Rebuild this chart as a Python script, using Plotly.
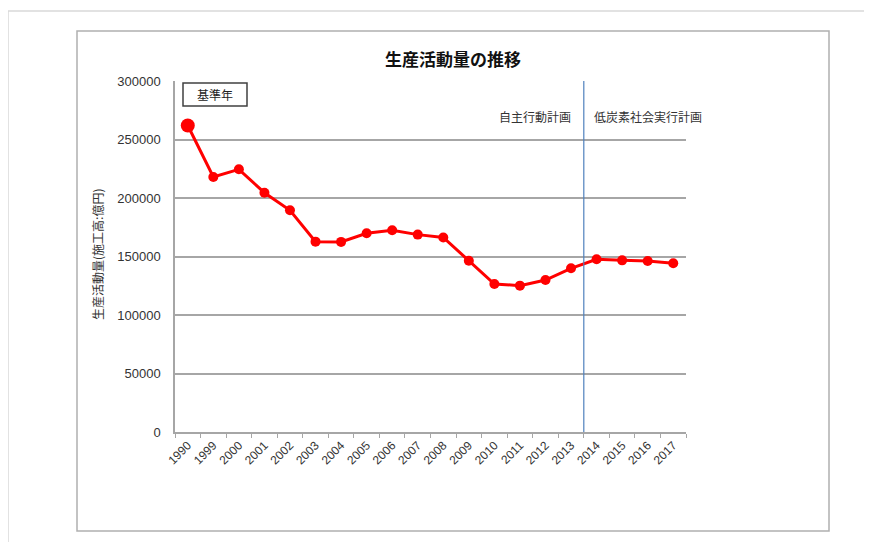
import plotly.graph_objects as go

categories = ["1990", "1999", "2000", "2001", "2002", "2003", "2004", "2005", "2006", "2007",
              "2008", "2009", "2010", "2011", "2012", "2013", "2014", "2015", "2016", "2017"]
values = [262000, 218000, 224500, 204500, 189500, 162700, 162500, 169800, 172500, 168700,
          166300, 146400, 126500, 125100, 129900, 139900, 147600, 146700, 146200, 144200]
marker_sizes = [14] + [10] * (len(values) - 1)
y_ticks = [0, 50000, 100000, 150000, 200000, 250000, 300000]

W, H = 872, 542
OFF = 8  # page body margin
L, R, T, B = 175, 686, 81, 432  # plot area in screen pixels
def px(x):
    return (x - L) / (R - L)
def py(y):
    return (B - y) / (B - T)

jp = "Noto Sans CJK JP"
fig = go.Figure()
fig.add_trace(go.Scatter(
    x=categories, y=values, mode="lines+markers",
    line=dict(color="#ff0000", width=3),
    marker=dict(color="#ff0000", size=marker_sizes, opacity=1, line=dict(width=0)),
    showlegend=False, cliponaxis=False,
))

split = categories.index("2014") - 0.5

shapes = [
    # page lines
    dict(type="line", xref="paper", yref="paper", x0=px(8), x1=px(880), y0=py(11), y1=py(11),
         line=dict(color="#d9d9d9", width=1.5)),
    dict(type="line", xref="paper", yref="paper", x0=px(8), x1=px(8), y0=py(11), y1=py(560),
         line=dict(color="#d9d9d9", width=1.5)),
    # chart frame
    dict(type="rect", xref="paper", yref="paper", x0=px(77), x1=px(829), y0=py(31), y1=py(531),
         line=dict(color="#b0b0b0", width=1.5), layer="below"),
    # base year box
    dict(type="rect", xref="paper", yref="paper", x0=px(183), x1=px(247), y0=py(83), y1=py(106),
         line=dict(color="#404040", width=1.5), fillcolor="white"),
    # divider line
    dict(type="line", xref="x", yref="paper", x0=split, x1=split, y0=0, y1=1,
         line=dict(color="#4f81bd", width=1.2)),
]

annotations = [
    dict(text="<b>生産活動量の推移</b>", xref="paper", yref="paper", x=px(453), y=py(58),
         showarrow=False, font=dict(family=jp, size=17, color="#111"), xanchor="center", yanchor="middle"),
    dict(text="生産活動量(施工高:億円)", xref="paper", yref="paper", x=px(97), y=py(255),
         showarrow=False, textangle=-90, font=dict(family=jp, size=12, color="#333"),
         xanchor="center", yanchor="middle"),
    dict(text="基準年", xref="paper", yref="paper", x=px(215), y=py(94.5),
         showarrow=False, font=dict(family=jp, size=12, color="#222"), xanchor="center", yanchor="middle"),
    dict(text="自主行動計画", xref="x", yref="paper", x=split, y=py(116), xshift=-11,
         showarrow=False, font=dict(family=jp, size=12, color="#333"), xanchor="right", yanchor="middle"),
    dict(text="低炭素社会実行計画", xref="x", yref="paper", x=split, y=py(116), xshift=8,
         showarrow=False, font=dict(family=jp, size=12, color="#333"), xanchor="left", yanchor="middle"),
]

fig.update_layout(
    width=W, height=H,
    margin=dict(l=L - OFF, r=W - R + OFF, t=T - OFF, b=H - B + OFF, pad=0),
    paper_bgcolor="white", plot_bgcolor="white",
    shapes=shapes, annotations=annotations,
    font=dict(family="Liberation Sans", size=12, color="#333"),
    xaxis=dict(type="category", range=[-0.5, len(categories) - 0.5], tickangle=-45,
               showline=True, linecolor="#a6a6a6", linewidth=1.5, showgrid=False,
               ticks="outside", tickson="boundaries", ticklen=4, tickcolor="#a6a6a6",
               tickfont=dict(family="Liberation Sans", size=12, color="#333")),
    yaxis=dict(range=[0, 300000], tickvals=y_ticks, ticktext=[str(v) for v in y_ticks],
               showline=True, linecolor="#a6a6a6", linewidth=1.5,
               showgrid=True, gridcolor="#a6a6a6", gridwidth=1.5, zeroline=False,
               ticks="", ticklabelstandoff=10,
               tickfont=dict(family="Liberation Sans", size=13, color="#333")),
)

fig.write_html("out.html")
